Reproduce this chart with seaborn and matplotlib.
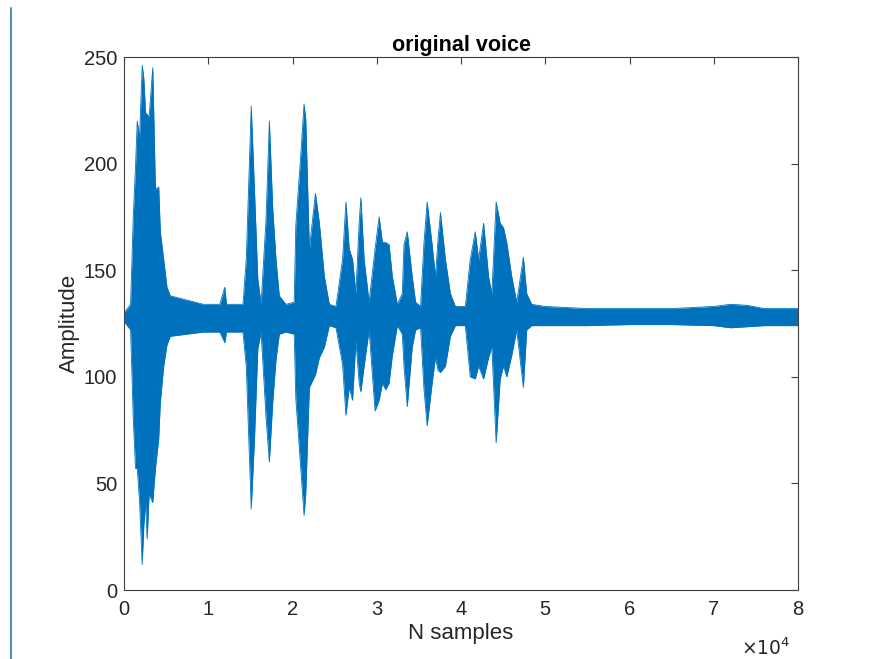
import numpy as np
import pandas as pd
import matplotlib
matplotlib.use("Agg")
import matplotlib.pyplot as plt
from matplotlib.lines import Line2D
import seaborn as sns

# envelope of the waveform (sample index, max, min)
samples = [0, 780, 1100, 1370, 1570, 1840, 2160, 2350, 2550, 2750, 2980, 3410,
           3730, 4120, 4310, 4710, 5100, 5490, 7450, 9410, 11370, 11960, 12160,
           14120, 14510, 15100, 15490, 15880, 16270, 16860, 17250, 17650, 18040,
           18430, 19220, 20200, 20390, 20980, 21370, 21570, 22000, 22720, 23190,
           23780, 24370, 25160, 25940, 26340, 26730, 27130, 27520, 27910, 28110,
           28500, 29090, 29800, 30280, 30670, 31060, 31460, 31850, 32440, 33030,
           33230, 33620, 34210, 34610, 35200, 35590, 35980, 36570, 36970, 37280,
           37560, 38150, 38740, 39330, 40510, 41100, 41690, 42090, 42680, 43270,
           43660, 44170, 44650, 45040, 45430, 46020, 46610, 47400, 47800, 48390,
           49960, 55000, 60000, 65000, 70000, 72000, 74000, 76000, 80000]
upper = [130, 134, 175, 199, 220, 212, 246, 240, 224, 223, 222, 245,
         188, 189, 168, 155, 142, 138, 136, 134, 134, 142, 134,
         134, 155, 227, 187, 146, 134, 174, 220, 179, 155,
         138, 134, 135, 171, 204, 228, 221, 160, 186, 172,
         147, 134, 133, 155, 182, 160, 155, 139, 172, 184,
         155, 135, 160, 175, 163, 163, 162, 147, 134, 139,
         162, 168, 147, 135, 133, 162, 182, 162, 147, 165,
         177, 155, 139, 133, 133, 155, 168, 155, 172, 147,
         139, 182, 172, 170, 163, 147, 135, 156, 139, 134,
         133, 132, 132, 132, 133, 134, 133.5, 132, 132]
lower = [126, 122, 80, 57, 57, 42, 12, 30, 41, 24, 45, 41,
         57, 71, 88, 105, 115, 119, 120, 121, 121, 116, 121,
         121, 105, 38, 71, 113, 121, 81, 60, 88, 108,
         120, 121, 120, 90, 57, 35, 45, 95, 101, 109,
         114, 124, 123, 106, 82, 95, 89, 117, 97, 93,
         105, 122, 84, 89, 97, 94, 97, 110, 124, 120,
         105, 86, 114, 122, 123, 95, 77, 97, 109, 103,
         102, 105, 119, 124, 124, 100, 99, 105, 99, 109,
         114, 69, 99, 105, 100, 110, 122, 95, 122, 124,
         124, 124, 124.5, 124.5, 124, 123, 123.5, 124, 124]

xticks = [0, 10000, 20000, 30000, 40000, 50000, 60000, 70000, 80000]
xticklabels = ["0", "1", "2", "3", "4", "5", "6", "7", "8"]
yticks = [0, 50, 100, 150, 200, 250]

df = pd.DataFrame({"n": samples, "hi": upper, "lo": lower})

sns.set_style("white")
plt.rcParams["font.family"] = ["Liberation Sans", "DejaVu Sans"]

blue = "#0072BD"
axcol = "#404040"
txtcol = "#262626"

fig = plt.figure(figsize=(8.69, 6.59), dpi=100)
ax = fig.add_axes([0.1427, 0.1047, 0.7756, 0.8088])

ax.fill_between(df["n"], df["lo"], df["hi"], color=blue, linewidth=0)
sns.lineplot(data=df, x="n", y="hi", ax=ax, color=blue, lw=0.6,
             estimator=None, sort=False)
sns.lineplot(data=df, x="n", y="lo", ax=ax, color=blue, lw=0.6,
             estimator=None, sort=False)

ax.set_xlim(0, 80000)
ax.set_ylim(0, 250)
ax.set_xticks(xticks)
ax.set_xticklabels(xticklabels)
ax.set_yticks(yticks)

ax.tick_params(direction="in", length=5, width=0.8, colors=axcol,
               labelcolor=txtcol, labelsize=14.5, top=True, right=True,
               pad=5)
ax.tick_params(axis="x", pad=7)
for s in ax.spines.values():
    s.set_color(axcol)
    s.set_linewidth(0.8)

ax.set_title("original voice", fontsize=15.5, fontweight="bold", pad=4,
             color="black")
ax.set_xlabel("N samples", fontsize=16, color=txtcol, labelpad=3)
ax.set_ylabel("Amplitude", fontsize=16, color=txtcol, labelpad=3)
ax.text(0.988, -0.109, r"$\times10^{4}$", transform=ax.transAxes,
        ha="right", va="center", fontsize=13.5, color=txtcol)

# blue border line at the left edge of the screenshot
fig.add_artist(Line2D([10.5 / 869, 10.5 / 869], [0, 1 - 8 / 659],
                      color="#4f95b3", lw=1.5, transform=fig.transFigure))

fig.savefig("out.png", dpi=100)
